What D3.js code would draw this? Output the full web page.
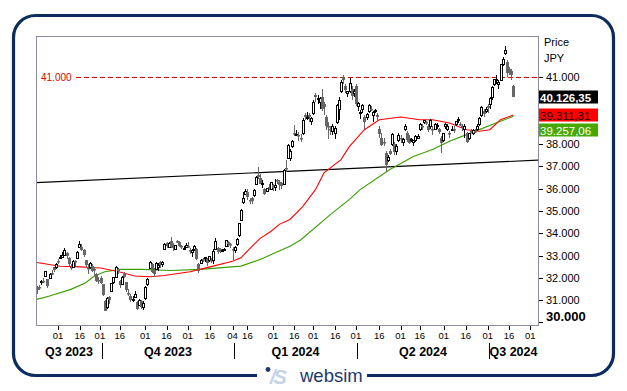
<!DOCTYPE html>
<html>
<head>
<meta charset="utf-8">
<script src="https://cdn.jsdelivr.net/npm/d3@7"></script>
<style>
  body { margin: 0; background: #fff; }
  svg { display: block; font-family: "Liberation Sans", Arial, sans-serif; }
</style>
</head>
<body>
<div id="chart"></div>
<script>

// trading days shown (Aug 2023 - Jul 2024)
var dates = [
  "2023-08-18","2023-08-21","2023-08-22","2023-08-23","2023-08-24","2023-08-25","2023-08-28","2023-08-29","2023-08-30","2023-08-31",
  "2023-09-01","2023-09-04","2023-09-05","2023-09-06","2023-09-07","2023-09-08","2023-09-11","2023-09-12","2023-09-13","2023-09-14","2023-09-15","2023-09-19","2023-09-20","2023-09-21","2023-09-22","2023-09-25","2023-09-26","2023-09-27","2023-09-28","2023-09-29",
  "2023-10-02","2023-10-03","2023-10-04","2023-10-05","2023-10-06","2023-10-10","2023-10-11","2023-10-12","2023-10-13","2023-10-16","2023-10-17","2023-10-18","2023-10-19","2023-10-20","2023-10-23","2023-10-24","2023-10-25","2023-10-26","2023-10-27","2023-10-30","2023-10-31",
  "2023-11-01","2023-11-02","2023-11-06","2023-11-07","2023-11-08","2023-11-09","2023-11-10","2023-11-13","2023-11-14","2023-11-15","2023-11-16","2023-11-17","2023-11-20","2023-11-21","2023-11-22","2023-11-24","2023-11-27","2023-11-28","2023-11-29","2023-11-30",
  "2023-12-01","2023-12-04","2023-12-05","2023-12-06","2023-12-07","2023-12-08","2023-12-11","2023-12-12","2023-12-13","2023-12-14","2023-12-15","2023-12-18","2023-12-19","2023-12-20","2023-12-21","2023-12-22","2023-12-25","2023-12-26","2023-12-27","2023-12-28","2023-12-29",
  "2024-01-04","2024-01-05","2024-01-09","2024-01-10","2024-01-11","2024-01-12","2024-01-15","2024-01-16","2024-01-17","2024-01-18","2024-01-19","2024-01-22","2024-01-23","2024-01-24","2024-01-25","2024-01-26","2024-01-29","2024-01-30","2024-01-31",
  "2024-02-01","2024-02-02","2024-02-05","2024-02-06","2024-02-07","2024-02-08","2024-02-09","2024-02-13","2024-02-14","2024-02-15","2024-02-16","2024-02-19","2024-02-20","2024-02-21","2024-02-22","2024-02-26","2024-02-27","2024-02-28","2024-02-29",
  "2024-03-01","2024-03-04","2024-03-05","2024-03-06","2024-03-07","2024-03-08","2024-03-11","2024-03-12","2024-03-13","2024-03-14","2024-03-15","2024-03-18","2024-03-19","2024-03-21","2024-03-22","2024-03-25","2024-03-26","2024-03-27","2024-03-28","2024-03-29",
  "2024-04-01","2024-04-02","2024-04-03","2024-04-04","2024-04-05","2024-04-08","2024-04-09","2024-04-10","2024-04-11","2024-04-12","2024-04-15","2024-04-16","2024-04-17","2024-04-18","2024-04-19","2024-04-22","2024-04-23","2024-04-24","2024-04-25","2024-04-26","2024-04-30",
  "2024-05-01","2024-05-02","2024-05-07","2024-05-08","2024-05-09","2024-05-10","2024-05-13","2024-05-14","2024-05-15","2024-05-16","2024-05-17","2024-05-20","2024-05-21","2024-05-22","2024-05-23","2024-05-24","2024-05-27","2024-05-28","2024-05-29","2024-05-30","2024-05-31",
  "2024-06-03","2024-06-04","2024-06-05","2024-06-06","2024-06-07","2024-06-10","2024-06-11","2024-06-12","2024-06-13","2024-06-14","2024-06-17","2024-06-18","2024-06-19","2024-06-20","2024-06-21","2024-06-24","2024-06-25","2024-06-26","2024-06-27","2024-06-28",
  "2024-07-01","2024-07-02","2024-07-03","2024-07-04","2024-07-05","2024-07-08","2024-07-09","2024-07-10","2024-07-11","2024-07-12","2024-07-16","2024-07-17","2024-07-18"
]

var opens = [
  31602,31600,31804,31850,32088,31941,31970,32228,32473,32505,
  32758,32917,32950,33035,33100,32900,32500,32500,32750,32900,33400,33400,33250,32800,32450,32500,32550,32400,32150,31900,
  31970,31700,30980,30710,31140,31400,31800,32050,32400,31840,31720,32170,31800,31300,31200,31000,31150,30900,30800,30950,30700,
  31100,31700,32450,32600,32350,32400,32500,32700,32600,33300,33550,33400,33650,33450,33300,33650,33600,33450,33300,33400,
  33450,33250,33150,33300,33300,32600,32650,32850,32900,32850,32800,32800,32800,33300,33350,33300,33250,33300,33450,33600,33500,
  33300,33250,33500,33900,34600,35400,35750,35850,35500,35600,35700,36200,36600,36500,36200,36000,35900,36100,36000,
  36150,36100,36400,36300,36250,36200,36950,37400,37400,37900,38500,38450,38400,38300,38500,39300,39200,39300,39050,
  39400,40200,40050,39900,40100,39800,39200,38800,38700,38600,38500,39000,39600,40400,41000,40600,40300,40400,40500,40300,
  40600,39700,39400,39600,39200,39200,39500,39600,39300,39500,39300,38700,38300,38100,37600,37300,37700,38000,38000,37700,38200,
  38300,38100,38700,38500,38300,38200,38100,38200,38300,38700,38800,39000,39000,38800,38800,38700,38700,38850,38700,38300,38200,
  38800,38700,38500,38700,38700,38900,39100,38900,38800,38700,38500,38300,38600,38500,38600,38700,38900,39300,39500,39500,
  39700,39800,40100,40700,40900,40700,40900,41600,42100,41700,41400,41300,40600
]

var highs = [
  31622,31689,31913,32010,32311,31958,32220,32346,32473,32651,
  32845,33007,33167,33322,33150,32950,32600,32800,32800,33200,33634,33500,33300,32800,32600,32700,32600,32500,32200,32050,
  32100,31727,31000,31130,31196,31780,32050,32533,32420,31880,32100,32260,31800,31500,31250,31200,31400,30950,31050,31000,30950,
  31650,31980,32770,32650,32450,32700,32650,32750,32750,33550,33600,33600,33850,33550,33480,33720,33650,33480,33450,33550,
  33600,33320,33300,33480,33350,32650,32850,32900,32950,32900,33000,32900,33300,33770,33400,33350,33300,33350,33700,33650,33550,
  33400,33450,33800,34480,35100,35850,36000,36000,35600,35650,36000,36550,36984,36650,36400,36050,36050,36200,36300,
  36200,36450,36450,36400,36300,36900,37287,38000,37800,38200,38865,38650,38550,38450,39157,39400,39426,39400,39200,
  39990,40314,40200,40100,40472,39900,39300,39000,38800,38900,38800,39800,40100,40900,41087,40700,40400,40979,40600,40500,
  40700,39900,39550,39800,39300,39400,39800,39700,39500,39600,39400,38800,38500,38300,37700,37500,37800,38500,38100,38000,38500,
  38400,38300,38900,38600,38400,38300,38200,38400,38450,38950,38900,39100,39050,38900,39150,38800,38950,38950,38750,38350,38500,
  38950,38900,38600,38800,38800,39050,39200,39000,38900,38900,38550,38500,38700,38700,38700,38900,39200,39700,39600,39650,
  39800,40100,40600,40913,41100,40900,41600,41900,42426,41800,41450,41400,40650
]

var lows = [
  31275,31448,31672,31770,32031,31541,31965,32137,32240,32390,
  32624,32856,32886,33000,32850,32550,32350,32450,32550,32850,33350,33200,32950,32500,32150,32400,32250,32100,31800,31700,
  31700,31162,30487,30602,30820,31380,31700,32020,32150,31560,31700,31980,31370,31200,30910,30900,31100,30550,30750,30600,30538,
  31000,31650,32400,32200,32050,32350,32300,32450,32500,33250,33330,33350,33350,33200,33250,33580,33400,33300,33250,33350,
  33350,33050,32950,33200,32800,32200,32600,32700,32700,32550,32700,32650,32600,33250,33080,33100,33150,33200,33400,33400,33350,
  32800,33100,33450,33850,34550,35300,35700,35500,35300,35300,35650,36150,36450,36200,36050,35700,35850,35950,35950,
  35900,35900,36200,35950,36000,36150,36750,37350,37250,37850,38350,38350,38150,38100,38400,39100,39100,39000,38876,
  39300,39900,39800,39600,39500,39300,38650,38250,38400,38400,38250,38900,39100,40300,40700,40300,40100,40300,40000,40100,
  39700,39500,39150,39400,38700,39100,39400,39500,39000,39400,39050,38300,37900,37900,36733,37200,37500,37900,37500,37500,38100,
  38050,37900,38600,38100,38000,38100,37900,38100,38250,38600,38650,38900,38850,38550,38700,38400,38650,38700,38450,37617,38100,
  38700,38600,38300,38600,38500,38800,38950,38800,38600,38300,38050,38200,38500,38400,38500,38600,38800,39200,39200,39400,
  39400,39600,40000,40600,40700,40500,40850,41500,42000,41000,41100,40900,40100
]

var closes = [
  31450,31565,31856,31796,32287,31624,32169,32226,32333,32619,
  32710,32939,33036,33241,32991,32606,32467,32776,32706,33168,33533,33242,33023,32571,32402,32678,32315,32371,31872,31857,
  31759,31237,30526,31075,30994,31746,32040,32494,32315,31659,32040,32042,31430,31259,30999,31062,31269,30601,30991,30697,30859,
  31601,31950,32708,32272,32166,32646,32568,32585,32695,33519,33424,33585,33388,33354,33452,33625,33447,33408,33321,33486,
  33431,33231,33231,33445,32858,32307,32791,32843,32926,32686,32970,32758,33219,33675,33141,33169,33255,33305,33681,33540,33464,
  33288,33377,33763,34441,35049,35577,35901,35619,35477,35466,35963,36546,36517,36226,36236,35751,36026,36066,36286,
  36011,36158,36354,36160,36119,36863,36897,37963,37703,38157,38487,38470,38363,38262,39098,39233,39239,39208,39166,
  39910,40109,40097,40090,39598,39688,38820,38797,38695,38807,38707,39740,40003,40815,40888,40414,40398,40762,40168,40369,
  39803,39838,39451,39773,38992,39347,39773,39581,39442,39523,39233,38471,37961,38079,37068,37438,37552,38460,37628,37934,38405,
  38274,38236,38835,38202,38073,38229,38179,38356,38385,38920,38787,39069,38946,38617,39103,38646,38900,38855,38556,38054,38487,
  38923,38837,38490,38703,38683,39038,39134,38876,38720,38814,38102,38482,38570,38633,38596,38804,39173,39667,39341,39583,
  39631,40074,40580,40913,40912,40780,41580,41831,42224,41190,41275,41097,40126
]

var redDates = ["2023-08-18","2023-09-04","2023-09-13","2023-10-02","2023-10-16","2023-10-25","2023-11-06","2023-11-15","2023-12-04","2023-12-15",
  "2024-01-04","2024-01-11","2024-01-17","2024-01-24","2024-01-31","2024-02-06","2024-02-14","2024-02-22","2024-03-04","2024-03-08",
  "2024-03-21","2024-03-27","2024-04-05","2024-04-16","2024-05-01","2024-05-16","2024-05-24","2024-06-05","2024-06-17","2024-06-25",
  "2024-07-02","2024-07-09","2024-07-18"]
var redValues = [32690,32520,32500,32440,32260,32080,32050,32100,32270,32480,
  32740,32900,33300,33770,34080,34400,34620,35200,35960,36710,
  37310,37900,38650,39100,39220,39100,39100,38950,38650,38580,
  38650,39100,39311]

var greenDates = ["2023-08-18","2023-08-28","2023-09-11","2023-09-21","2023-09-27","2023-10-04","2023-10-16","2023-10-30","2023-11-20","2023-12-11",
  "2024-01-11","2024-01-24","2024-02-14","2024-02-21","2024-03-13","2024-03-27","2024-04-03","2024-04-23","2024-05-13","2024-05-24",
  "2024-06-05","2024-06-17","2024-06-25","2024-07-09","2024-07-18"]
var greenValues = [31030,31180,31480,31780,32080,32270,32380,32380,32330,32380,
  32525,32825,33420,33700,34840,35520,35960,36860,37450,37760,
  38130,38430,38655,39030,39257]

// straight trend line: two points on it
var trendDates = ["2023-08-18","2024-07-18"]
var trendValues = [36278, 37236]

var level = 41000
var yTicks = [31000, 32000, 33000, 34000, 35000, 36000, 37000, 38000, 41000]
var yBottomTick = 30000

var tickDates = ["2023-09-01","2023-09-16","2023-10-01","2023-10-16","2023-11-01","2023-11-16","2023-12-01","2023-12-16",
  "2024-01-04","2024-01-16","2024-02-01","2024-02-16","2024-03-01","2024-03-16","2024-04-01","2024-04-16","2024-05-01","2024-05-16",
  "2024-06-01","2024-06-16","2024-07-01","2024-07-16","2024-08-01"]
var quarterLabels = ["Q3 2023","Q4 2023","Q1 2024","Q2 2024","Q3 2024"]
var quarterStarts = ["2023-10-02","2024-01-04","2024-04-01","2024-07-01"]

// last values shown in the tags on the right
var tagValues = [40126.35, 39311.31, 39257.06]
var tagFills = ["#000", "#ff0000", "#46a800"]
var tagText = ["#fff", "#1a0000", "#fff"]

var W = 627, H = 391
var plot = {left: 36, right: 538, top: 36, bottom: 325}

var it = d3.formatLocale({decimal: ",", thousands: ".", grouping: [3], currency: ["", ""]})
var fmtInt = it.format(",")
var fmtTag = it.format(",.2f")

var svg = d3.select("#chart").append("svg")
  .attr("width", W).attr("height", H)

var parse = d3.timeParse("%Y-%m-%d")
var index = new Map(dates.map(function(d, i){ return [d, i]; }))

var x = d3.scaleLinear().domain([0, dates.length - 1]).range([36.8, 513.3])
var y = d3.scaleLinear().domain([29880, 42860]).range([plot.bottom, plot.top])

// calendar date -> fractional trading day (the axis runs a little past the data)
var dayScale = d3.scaleTime()
  .domain(dates.map(parse).concat([parse("2024-08-01")]))
  .range(d3.range(dates.length).concat([232]))
function xDate(s) { return x(dayScale(parse(s))); }

// outer frame
svg.append("rect")
  .attr("x", 13.5).attr("y", 15.5).attr("width", 600).attr("height", 360)
  .attr("rx", 22).attr("ry", 22)
  .style("fill", "none").style("stroke", "#0b2c5c").style("stroke-width", 3.2)

svg.append("defs").append("clipPath").attr("id", "clip")
  .append("rect")
    .attr("x", plot.left).attr("y", plot.top)
    .attr("width", plot.right - plot.left).attr("height", plot.bottom - plot.top)

var inner = svg.append("g").attr("clip-path", "url(#clip)")

// trend line, extended across the plot
var t0 = index.get(trendDates[0]), t1 = index.get(trendDates[1])
var slope = (trendValues[1] - trendValues[0]) / (t1 - t0)
var iLeft = x.invert(plot.left), iRight = x.invert(plot.right)
inner.append("line")
  .attr("x1", plot.left).attr("x2", plot.right)
  .attr("y1", y(trendValues[0] + slope * (iLeft - t0)))
  .attr("y2", y(trendValues[0] + slope * (iRight - t0)))
  .style("stroke", "#000").style("stroke-width", 1.1)

// 41.000 level, its label sits at the left end
var yLevel = Math.round(y(level)) + 0.5
inner.append("line")
  .attr("x1", 76).attr("x2", plot.right)
  .attr("y1", yLevel).attr("y2", yLevel)
  .style("stroke", "#e00000").style("stroke-width", 1)
  .style("stroke-dasharray", "5,3")
svg.append("text")
  .attr("x", 41).attr("y", yLevel + 3.5)
  .style("font-size", "10px").style("fill", "#e00000")
  .text(fmtInt(level))

// moving averages
var line = d3.line()
  .x(function(d){ return x(index.get(d[0])); })
  .y(function(d){ return y(d[1]); })

inner.append("path")
  .attr("d", line(d3.zip(greenDates, greenValues)))
  .style("fill", "none").style("stroke", "#3a9e00").style("stroke-width", 1.1)

inner.append("path")
  .attr("d", line(d3.zip(redDates, redValues)))
  .style("fill", "none").style("stroke", "#ff0000").style("stroke-width", 1.1)

// candles
var candle = inner.selectAll(".candle").data(d3.range(dates.length))
  .enter().append("g")
    .attr("class", "candle")

function isUp(i) { return closes[i] >= opens[i]; }
function cx(i) { return Math.round(x(i)); }

candle.append("line")
  .attr("x1", function(i){ return cx(i) + 0.5; })
  .attr("x2", function(i){ return cx(i) + 0.5; })
  .attr("y1", function(i){ return Math.round(y(highs[i])); })
  .attr("y2", function(i){ return Math.round(y(lows[i])); })
  .style("stroke", function(i){ return isUp(i) ? "#000" : "#666"; })
  .style("stroke-width", 1)

candle.append("rect")
  .attr("x", function(i){ return isUp(i) ? cx(i) - 0.5 : cx(i) - 1; })
  .attr("width", function(i){ return isUp(i) ? 2 : 3; })
  .attr("y", function(i){
    var top = Math.round(y(Math.max(opens[i], closes[i])))
    return isUp(i) ? top + 0.5 : top
  })
  .attr("height", function(i){
    var h = Math.round(y(Math.min(opens[i], closes[i]))) - Math.round(y(Math.max(opens[i], closes[i])))
    return Math.max(isUp(i) ? 1 : 1.5, h)
  })
  .style("fill", function(i){ return isUp(i) ? "#fff" : "#666"; })
  .style("stroke", function(i){ return isUp(i) ? "#000" : "none"; })
  .style("stroke-width", 1)

// plot border
svg.append("rect")
  .attr("x", plot.left + 0.5).attr("y", plot.top + 0.5)
  .attr("width", plot.right - plot.left).attr("height", plot.bottom - plot.top)
  .style("fill", "none").style("stroke", "#8c8c9c").style("stroke-width", 1)

// right axis
var yAxis = svg.append("g")
yAxis.selectAll(".ytick").data(yTicks).enter().append("line")
  .attr("x1", plot.right + 1).attr("x2", plot.right + 5)
  .attr("y1", function(d){ return Math.round(y(d)) + 0.5; })
  .attr("y2", function(d){ return Math.round(y(d)) + 0.5; })
  .style("stroke", "#000")
yAxis.selectAll(".ylab").data(yTicks).enter().append("text")
  .attr("x", plot.right + 8).attr("y", function(d){ return y(d) + 4; })
  .style("font-size", "11px").style("fill", "#000")
  .text(fmtInt)

yAxis.append("line")
  .attr("x1", plot.right + 1).attr("x2", plot.right + 5)
  .attr("y1", Math.round(y(yBottomTick)) + 0.5).attr("y2", Math.round(y(yBottomTick)) + 0.5)
  .style("stroke", "#000")
yAxis.append("text")
  .attr("x", plot.right + 8).attr("y", y(yBottomTick) - 1.5)
  .style("font-size", "13px").style("font-weight", "bold").style("fill", "#000")
  .text(fmtInt(yBottomTick))

svg.append("text").attr("x", 544).attr("y", 45.5)
  .style("font-size", "11px").style("fill", "#000").text("Price")
svg.append("text").attr("x", 544).attr("y", 61.5)
  .style("font-size", "11px").style("fill", "#000").text("JPY")

// value tags, pushed apart when they collide
var tagY = []
tagValues.forEach(function(v, i){
  var cy = y(v)
  if (i > 0 && cy < tagY[i - 1] + 15) { cy = tagY[i - 1] + 15 }
  tagY.push(cy)
})
var tags = svg.selectAll(".tag").data(tagValues).enter().append("g")
tags.append("rect")
  .attr("x", plot.right + 1).attr("width", 59)
  .attr("y", function(d, i){ return Math.round(tagY[i]) - 6.5; })
  .attr("height", 13)
  .style("fill", function(d, i){ return tagFills[i]; })
tags.append("text")
  .attr("x", plot.right + 2).attr("y", function(d, i){ return Math.round(tagY[i]) + 4.5; })
  .style("font-size", "11.5px")
  .style("font-weight", function(d, i){ return i == 0 ? "bold" : "normal"; })
  .style("fill", function(d, i){ return tagText[i]; })
  .text(fmtTag)

// bottom axis
var xAxis = svg.append("g")
xAxis.selectAll(".xtick").data(tickDates).enter().append("line")
  .attr("x1", function(d){ return Math.round(xDate(d)) + 0.5; })
  .attr("x2", function(d){ return Math.round(xDate(d)) + 0.5; })
  .attr("y1", plot.bottom + 1).attr("y2", plot.bottom + 5)
  .style("stroke", "#000")
xAxis.selectAll(".xlab").data(tickDates).enter().append("text")
  .attr("x", function(d){ return xDate(d); })
  .attr("y", 338.5)
  .attr("text-anchor", "middle")
  .style("font-size", "9.5px").style("fill", "#000")
  .text(function(d){ return d.slice(8); })

var bounds = [plot.left].concat(quarterStarts.map(function(d){ return Math.round(xDate(d)) + 1; })).concat([plot.right])
xAxis.selectAll(".qsep").data(quarterStarts).enter().append("line")
  .attr("x1", function(d){ return Math.round(xDate(d)) + 1.5; })
  .attr("x2", function(d){ return Math.round(xDate(d)) + 1.5; })
  .attr("y1", 343).attr("y2", 359)
  .style("stroke", "#000")
xAxis.selectAll(".qlab").data(quarterLabels).enter().append("text")
  .attr("x", function(d, i){ return (bounds[i] + bounds[i + 1]) / 2; })
  .attr("y", 356)
  .attr("text-anchor", "middle")
  .style("font-size", "12.5px").style("font-weight", "bold").style("fill", "#000")
  .text(function(d){ return d; })

// websim badge on the frame
svg.append("rect").attr("x", 257).attr("y", 368).attr("width", 110).attr("height", 14)
  .style("fill", "#fff")
svg.append("circle").attr("cx", 268).attr("cy", 369.5).attr("r", 2.4)
  .style("fill", "#1b3a6b")
svg.append("text").attr("x", 270).attr("y", 384)
  .style("font-size", "20px").style("font-weight", "bold").style("font-style", "italic")
  .style("fill", "#c5d2e4").style("letter-spacing", "-2px")
  .text("/S")
svg.append("text").attr("x", 300).attr("y", 382)
  .style("font-size", "18.5px").style("fill", "#1b3a6b")
  .text("websim")

</script>
</body>
</html>
